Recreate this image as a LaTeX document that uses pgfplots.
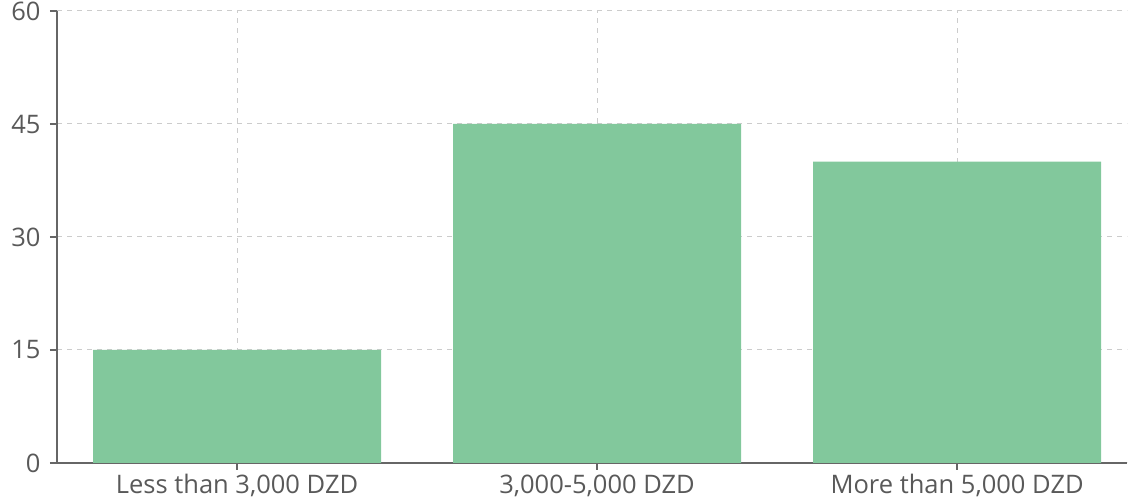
\documentclass[border=0pt]{standalone}
\usepackage{pgfplots}
\pgfplotsset{compat=1.18}
\usepackage{fontspec}
\setmainfont{Open Sans}
\definecolor{barc}{HTML}{82C89C}
\definecolor{axisgray}{HTML}{666666}
\definecolor{gridgray}{HTML}{CCCCCC}
\definecolor{txt}{HTML}{595959}
\begin{document}
\begin{tikzpicture}
\begin{axis}[
 scale only axis, width=1070pt, height=452pt,
 xmin=-0.5, xmax=2.472, ymin=0, ymax=60,
 ytick={0,15,30,45,60},
 xtick={0,1,2},
 xticklabels={{Less than 3,000 DZD},{3,000-5,000 DZD},{More than 5,000 DZD}},
 axis lines=left,
 axis line style={axisgray, line width=1.2pt, -},
 tick style={axisgray, line width=1.2pt},
 tick align=outside, major tick length=7pt,
 grid=major,
 major grid style={gridgray, line width=1pt, dash pattern=on 5pt off 5pt},
 ticklabel style={font=\fontsize{25.5}{28}\selectfont, text=txt},
 yticklabel style={xshift=-6pt},
 xticklabel style={yshift=-1pt},
 /pgf/number format/assume math mode=true,
 ybar, bar width=288pt,
]
\addplot[fill=barc, draw=none] coordinates {(0,15) (1,45) (2,40)};
\end{axis}
\pgfresetboundingbox
\path[use as bounding box] (-57pt,-40pt) rectangle (1072pt,463pt);
\end{tikzpicture}
\end{document}
